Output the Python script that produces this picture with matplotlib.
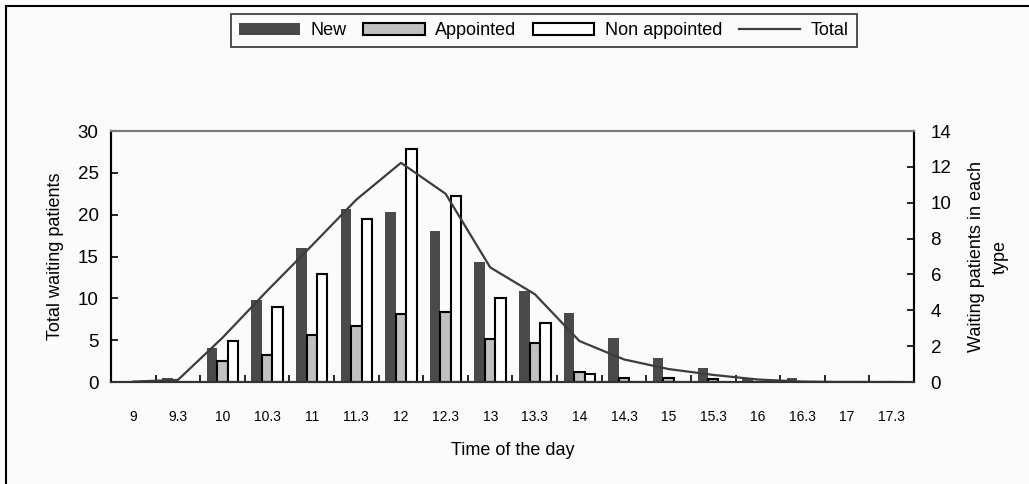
import matplotlib
matplotlib.use("Agg")
import matplotlib.pyplot as plt
from matplotlib.patches import Rectangle, Patch
from matplotlib.lines import Line2D
import numpy as np

plt.rcParams['font.family'] = ['Liberation Sans', 'DejaVu Sans']

# data
times = ['9', '9.3', '10', '10.3', '11', '11.3', '12', '12.3', '13',
         '13.3', '14', '14.3', '15', '15.3', '16', '16.3', '17', '17.3']
new_pat = [0, 0.2, 1.9, 4.6, 7.5, 9.65, 9.5, 8.4, 6.7, 5.1, 3.85, 2.45,
           1.35, 0.8, 0.2, 0.22, 0, 0]
appointed = [0, 0, 1.15, 1.5, 2.6, 3.1, 3.8, 3.9, 2.4, 2.2, 0.58, 0.25,
             0.25, 0.15, 0, 0, 0, 0]
non_appointed = [0, 0, 2.3, 4.2, 6.05, 9.1, 13.0, 10.4, 4.7, 3.3, 0.45, 0,
                 0, 0, 0, 0, 0, 0]
total = [0.05, 0.25, 5.3, 10.9, 16.3, 21.8, 26.2, 22.5, 13.7, 10.5, 4.9, 2.7,
         1.55, 0.85, 0.3, 0.05, 0, 0]

bg = '#fbfbfb'
fig = plt.figure(figsize=(10.29, 4.84), dpi=100, facecolor=bg)
ax = fig.add_axes([0.1079, 0.2107, 0.7803, 0.5186])
ax2 = ax.twinx()
ax.set_zorder(ax2.get_zorder() + 1)
ax.patch.set_visible(False)
ax2.set_facecolor(bg)

x = np.arange(len(times))
w = 0.235
ax2.bar(x - w, new_pat, w, color='#4a4a4a', linewidth=0)
ax2.bar(x, appointed, w, color='#c0c0c0', edgecolor='black', linewidth=1.5)
ax2.bar(x + w, non_appointed, w, color='white', edgecolor='black', linewidth=1.5)
ax.plot(x, total, color='#3c3c3c', linewidth=1.6)

ax.set_xlim(-0.5, 17.5)
ax.set_ylim(0, 30)
ax2.set_ylim(0, 14)
ax.set_yticks(range(0, 31, 5))
ax2.set_yticks(range(0, 15, 2))

ax.set_xticks(x)
ax.set_xticklabels(times, fontsize=10)
ax.set_xticks(np.arange(0.5, 17.5, 1), minor=True)
ax.tick_params(axis='x', which='major', length=0, pad=20)
ax.tick_params(axis='x', which='minor', direction='in', length=5, width=1.2)
ax.tick_params(axis='y', direction='in', length=5, width=1.2, labelsize=13.5, pad=9)
ax2.tick_params(axis='y', direction='in', length=5, width=1.2, labelsize=13.5, pad=12)

for a in (ax, ax2):
    a.spines['top'].set_color('#7a7a7a')
    a.spines['top'].set_linewidth(1.5)
    a.spines['left'].set_linewidth(1.5)
    a.spines['right'].set_linewidth(1.5)
    a.spines['bottom'].set_linewidth(1.5)
    a.spines['bottom'].set_color('#333333')

ax.set_ylabel('Total waiting patients', fontsize=13, labelpad=10)
ax2.set_ylabel('Waiting patients in each\ntype', fontsize=13, labelpad=12,
               linespacing=1.5)
ax.set_xlabel('Time of the day', fontsize=13, labelpad=13)

handles = [Patch(facecolor='#4a4a4a', edgecolor='none'),
           Patch(facecolor='#c0c0c0', edgecolor='black', linewidth=1.5),
           Patch(facecolor='white', edgecolor='black', linewidth=1.5),
           Line2D([0], [0], color='#3c3c3c', linewidth=1.6)]
leg = fig.legend(handles, ['New', 'Appointed', 'Non appointed', 'Total'],
                 loc='center', bbox_to_anchor=(0.5285, 0.937), ncol=4,
                 fontsize=13, frameon=True, fancybox=False, handlelength=3.4,
                 handleheight=0.65, columnspacing=0.9, handletextpad=0.6,
                 borderpad=0.45)
leg.get_frame().set_edgecolor('black')
leg.get_frame().set_linewidth(1.2)
leg.get_frame().set_facecolor(bg)

# outer chart border (only top and left edges are visible)
fig.patches.append(Rectangle((6 / 1029, -0.1), 1.2, 1.1 - 6 / 484, fill=False,
                             edgecolor='black', linewidth=1.5,
                             transform=fig.transFigure))

fig.savefig('out.png', dpi=100, facecolor=bg)
